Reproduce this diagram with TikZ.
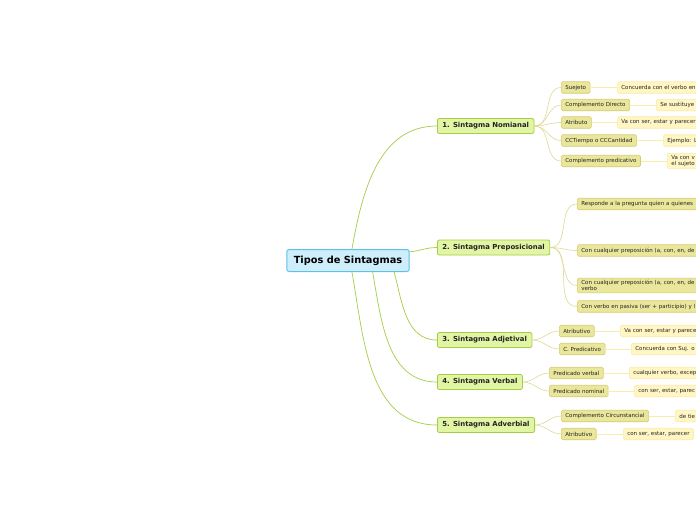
\documentclass[tikz,border=0pt]{standalone}
\usepackage{fontspec}
\setmainfont{DejaVu Sans}
\definecolor{rootfill}{RGB}{206,238,251}
\definecolor{rootline}{RGB}{95,192,236}
\definecolor{mainfill}{RGB}{226,245,165}
\definecolor{mainline}{RGB}{164,206,72}
\definecolor{leaffill}{RGB}{234,230,155}
\definecolor{leafline}{RGB}{214,204,112}
\definecolor{leafedge}{RGB}{224,218,150}
\definecolor{notefill}{RGB}{255,246,196}
\definecolor{noteline}{RGB}{250,236,170}
\definecolor{txt}{RGB}{35,35,35}
\tikzset{root/.style={draw=rootline,fill=rootfill,line width=1pt,rounded corners=2.5pt,text=black,font=\fontsize{9.8}{11}\selectfont\bfseries,minimum height=22pt,inner xsep=7pt}}
\tikzset{branch/.style={draw=mainline,fill=mainfill,line width=.8pt,rounded corners=2pt,text=txt,font=\fontsize{6.9}{8}\selectfont\bfseries,minimum height=15pt,inner xsep=5pt,anchor=west}}
\tikzset{leaf/.style={draw=leafline,fill=leaffill,line width=.6pt,rounded corners=1.5pt,text=txt,font=\fontsize{5.5}{6.2}\selectfont,minimum height=11.5pt,inner xsep=4pt,inner ysep=2pt,anchor=west,align=left}}
\tikzset{note/.style={draw=noteline,fill=notefill,line width=.6pt,rounded corners=1.5pt,text=txt,font=\fontsize{5.5}{6.2}\selectfont,minimum height=11.5pt,inner xsep=4pt,inner ysep=2pt,anchor=west,align=left}}
\tikzset{trunk/.style={draw=mainline,line width=.7pt}}
\tikzset{twig/.style={draw=leafedge,line width=.6pt}}
\tikzset{tail/.style={draw=noteline,line width=.8pt}}

\begin{document}
\begin{tikzpicture}[x=1pt,y=-1pt]
\clip (0,0) rectangle (696,520);
\fill [white] (0,0) rectangle (696,520);

\node [root] (c) at (348,260.5) {Tipos de Sintagmas};

\node [branch] (n1) at (437,126) {1. Sintagma Nomianal};
\node [branch] (n2) at (437,247.5) {2. Sintagma Preposicional};
\node [branch] (n3) at (437,340) {3. Sintagma Adjetival};
\node [branch] (n4) at (437,382) {4. Sintagma Verbal};
\node [branch] (n5) at (437,425) {5. Sintagma Adverbial};

\draw [trunk] (c.71) to[out=80,in=180] (n1.west);
\draw [trunk] (c.8) to[out=5,in=180] (n2.west);
\draw [trunk] (c.-14) to[out=-75,in=180] (n3.west);
\draw [trunk] (c.-25) to[out=-80,in=180] (n4.west);
\draw [trunk] (c.-71) to[out=-80,in=180] (n5.west);

\node [leaf] (l11) at (561,87.5) {Suejeto};
\node [leaf] (l12) at (561,105) {Complemento Directo};
\node [leaf] (l13) at (561,122.5) {Atributo};
\node [leaf] (l14) at (561,140.5) {CCTiempo o CCCantidad};
\node [leaf] (l15) at (561,161) {Complemento predicativo};
\node [note,text width=100pt] (s11) at (617,87.5) {Concuerda con el verbo en};
\node [note,text width=60pt] (s12) at (656,105) {Se sustituye};
\node [note,text width=100pt] (s13) at (617,122.5) {Va con ser, estar y parecer};
\node [note,text width=60pt] (s14) at (663,140.5) {Ejemplo: L};
\node [note,text width=60pt] (s15) at (667,161) {Va con v\\el sujeto};

\node [leaf,text width=140pt] (l21) at (577,204) {Responde a la pregunta quien a quienes};
\node [leaf,text width=140pt] (l22) at (577,250.5) {Con cualquier preposición (a, con, en, de};
\node [leaf,text width=140pt] (l23) at (577,285.5) {Con cualquier preposición (a, con, en, de\\verbo};
\node [leaf,text width=140pt] (l24) at (577,306.5) {Con verbo en pasiva (ser + participio) y l};

\node [leaf] (l31) at (559,331) {Atributivo};
\node [leaf] (l32) at (559,349) {C. Predicativo};
\node [note,text width=100pt] (s31) at (620,331) {Va con ser, estar y parece};
\node [note,text width=100pt] (s32) at (631,349) {Concuerda con Suj. o};

\node [leaf] (l41) at (549,373) {Predicado verbal};
\node [leaf] (l42) at (549,391) {Predicado nominal};
\node [note,text width=100pt] (s41) at (629,373) {cualquier verbo, excep};
\node [note,text width=100pt] (s42) at (634,391) {con ser, estar, parec};

\node [leaf] (l51) at (561,416) {Complemento Circunstancial};
\node [leaf] (l52) at (561,434) {Atributivo};
\node [note,text width=60pt] (s51) at (675,416) {de tie};
\node [note] (s52) at (623,434) {con ser, estar, parecer};

\foreach \l in {l11,l12,l13,l14,l15}
  \draw [twig] (n1.east) to[out=0,in=180] (\l.west);
\foreach \l in {l21,l22,l23,l24}
  \draw [twig] (n2.east) to[out=0,in=180] (\l.west);
\foreach \l in {l31,l32}
  \draw [twig] (n3.east) to[out=0,in=180] (\l.west);
\foreach \l in {l41,l42}
  \draw [twig] (n4.east) to[out=0,in=180] (\l.west);
\foreach \l in {l51,l52}
  \draw [twig] (n5.east) to[out=0,in=180] (\l.west);

\draw [tail] (l11) -- (s11);
\draw [tail] (l12) -- (s12);
\draw [tail] (l13) -- (s13);
\draw [tail] (l14) -- (s14);
\draw [tail] (l15) -- (s15);
\draw [tail] (l31) -- (s31);
\draw [tail] (l32) -- (s32);
\draw [tail] (l41) -- (s41);
\draw [tail] (l42) -- (s42);
\draw [tail] (l51) -- (s51);
\draw [tail] (l52) -- (s52);
\end{tikzpicture}
\end{document}
